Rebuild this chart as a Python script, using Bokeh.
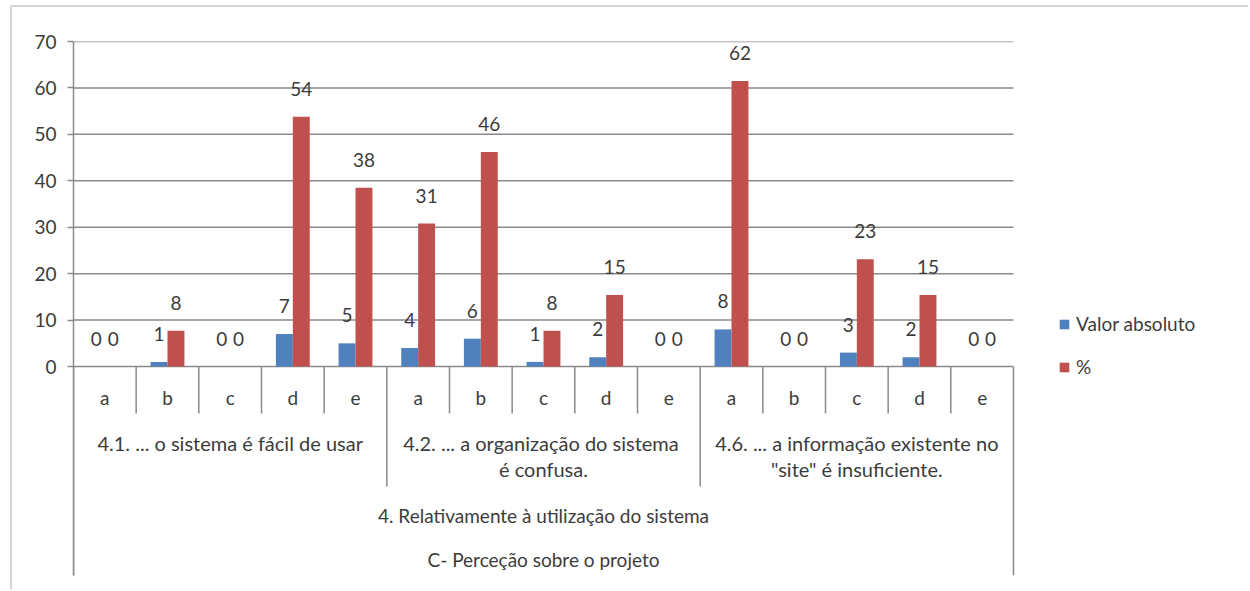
from bokeh.plotting import figure
from bokeh.models import ColumnDataSource, Range1d, FixedTicker, Legend, LegendItem
from bokeh.transform import dodge
from bokeh.core.properties import value
from bokeh.embed import file_html
from bokeh.resources import INLINE

# ---------------- data ----------------
letters = ["a", "b", "c", "d", "e", "a", "b", "c", "d", "e", "a", "b", "c", "d", "e"]
group_titles = [
    "4.1. ... o sistema é fácil de usar",
    "4.2.  ... a organização do sistema\né confusa.",
    "4.6. ... a informação existente no\n\"site\" é insuficiente.",
]
level3_title = "4. Relativamente à utilização do sistema"
level4_title = "C- Perceção sobre o projeto"
series_names = ["Valor absoluto", "%"]
valor_absoluto = [0, 1, 0, 7, 5, 4, 6, 1, 2, 0, 8, 0, 3, 2, 0]
percent = [0, 7.7, 0, 53.8, 38.5, 30.8, 46.2, 7.7, 15.4, 0, 61.5, 0, 23.1, 15.4, 0]
y_ticks = [0, 10, 20, 30, 40, 50, 60, 70]

# ---------------- styling ----------------
FONT = "Lato"
FS = "19px"
FS_GROUP = "20px"
TXT = "#3c3c3c"
GRID = "#8a8a8a"
BLUE = "#4F81BD"
RED = "#C0504D"
Y_MIN, Y_MAX = -45, 70
PX = (366 - 41) / 70.0          # pixels per y unit
CAT_AREA_PX = 1013 - 73         # width of the category area
FRAME_PX = 1250 - 73            # frame runs to the right edge (legend lives inside)

n = len(letters)
centers = [i + 0.5 for i in range(n)]
bar_w = 0.27
x_max = n * FRAME_PX / CAT_AREA_PX

p = figure(width=1238, height=584, output_backend="svg", toolbar_location=None,
           x_range=Range1d(0, x_max), y_range=Range1d(Y_MIN, Y_MAX),
           x_axis_location=None,
           min_border_left=61, min_border_right=0, min_border_top=34, min_border_bottom=16)
p.styles = {"margin-left": "10px", "margin-top": "5px",
            "border-left": "2px solid #d6d6d6", "border-top": "2px solid #d6d6d6"}
p.outline_line_color = None
p.xgrid.visible = False
p.ygrid.visible = False
p.background_fill_color = "white"
p.border_fill_color = "white"

yax = p.yaxis[0]
yax.ticker = FixedTicker(ticks=y_ticks)
yax.axis_line_color = GRID
yax.axis_line_width = 1.5
yax.major_tick_line_color = GRID
yax.major_tick_line_width = 1.5
yax.major_tick_out = 6
yax.major_tick_in = 0
yax.minor_tick_line_color = None
yax.major_label_text_font = FONT
yax.major_label_text_font_size = FS
yax.major_label_text_color = TXT
yax.major_label_standoff = 11

# horizontal gridlines limited to the category area
p.segment(x0=[0] * len(y_ticks), x1=[n] * len(y_ticks), y0=y_ticks, y1=y_ticks,
          line_color=GRID, line_width=1.5)

src = ColumnDataSource(dict(
    x=centers, va=valor_absoluto, pc=percent,
    va_lbl=["%d" % v for v in valor_absoluto],
    pc_lbl=["%.0f" % v for v in percent],
    letter=letters,
))

r1 = p.vbar(x=dodge("x", -bar_w / 2, range=p.x_range), top="va", width=bar_w,
            bottom=0, source=src, fill_color=BLUE, line_color=None)
r2 = p.vbar(x=dodge("x", bar_w / 2, range=p.x_range), top="pc", width=bar_w,
            bottom=0, source=src, fill_color=RED, line_color=None)

lbl_kw = dict(text_font=value(FONT), text_font_size=FS, text_color=TXT,
              text_align="center", text_baseline="middle")
p.text(x=dodge("x", -bar_w / 2, range=p.x_range), y="va", text="va_lbl",
       y_offset=-28, source=src, **lbl_kw)
p.text(x=dodge("x", bar_w / 2, range=p.x_range), y="pc", text="pc_lbl",
       y_offset=-28, source=src, **lbl_kw)

# category letters
p.text(x="x", y=0, text="letter", y_offset=31, source=src, **lbl_kw)

# group labels
grp_kw = dict(lbl_kw, text_font_size=FS_GROUP)
g_centers = [2.5, 7.5, 12.5]
line1 = [t.split("\n")[0] for t in group_titles]
line2 = [t.split("\n")[1] if "\n" in t else "" for t in group_titles]
p.text(x=g_centers, y=[0] * 3, text=line1, y_offset=76, **grp_kw)
p.text(x=g_centers, y=[0] * 3, text=line2, y_offset=102, **grp_kw)
p.text(x=[n / 2], y=[0], text=[level3_title], y_offset=149, **lbl_kw)
p.text(x=[n / 2], y=[0], text=[level4_title], y_offset=193, **lbl_kw)

# separators
short_x = [i for i in range(1, n) if i % 5 != 0]
group_x = [5, 10]
outer_x = [0, n]
seg_kw = dict(line_color=GRID, line_width=1.5)
p.segment(x0=short_x, x1=short_x, y0=[0] * len(short_x), y1=[-47 / PX] * len(short_x), **seg_kw)
p.segment(x0=group_x, x1=group_x, y0=[0] * 2, y1=[-120 / PX] * 2, **seg_kw)
p.segment(x0=outer_x, x1=outer_x, y0=[0] * 2, y1=[Y_MIN] * 2, **seg_kw)

legend = Legend(items=[LegendItem(label=series_names[0], renderers=[r1]),
                       LegendItem(label=series_names[1], renderers=[r2])],
                location=(985, 197), padding=0, spacing=20, margin=0,
                glyph_width=12, glyph_height=12, label_standoff=6,
                label_text_font=FONT, label_text_font_size=FS,
                label_text_color=TXT, border_line_color=None,
                background_fill_alpha=0)
p.add_layout(legend, "center")

open("out.html", "w").write(file_html(p, INLINE))
